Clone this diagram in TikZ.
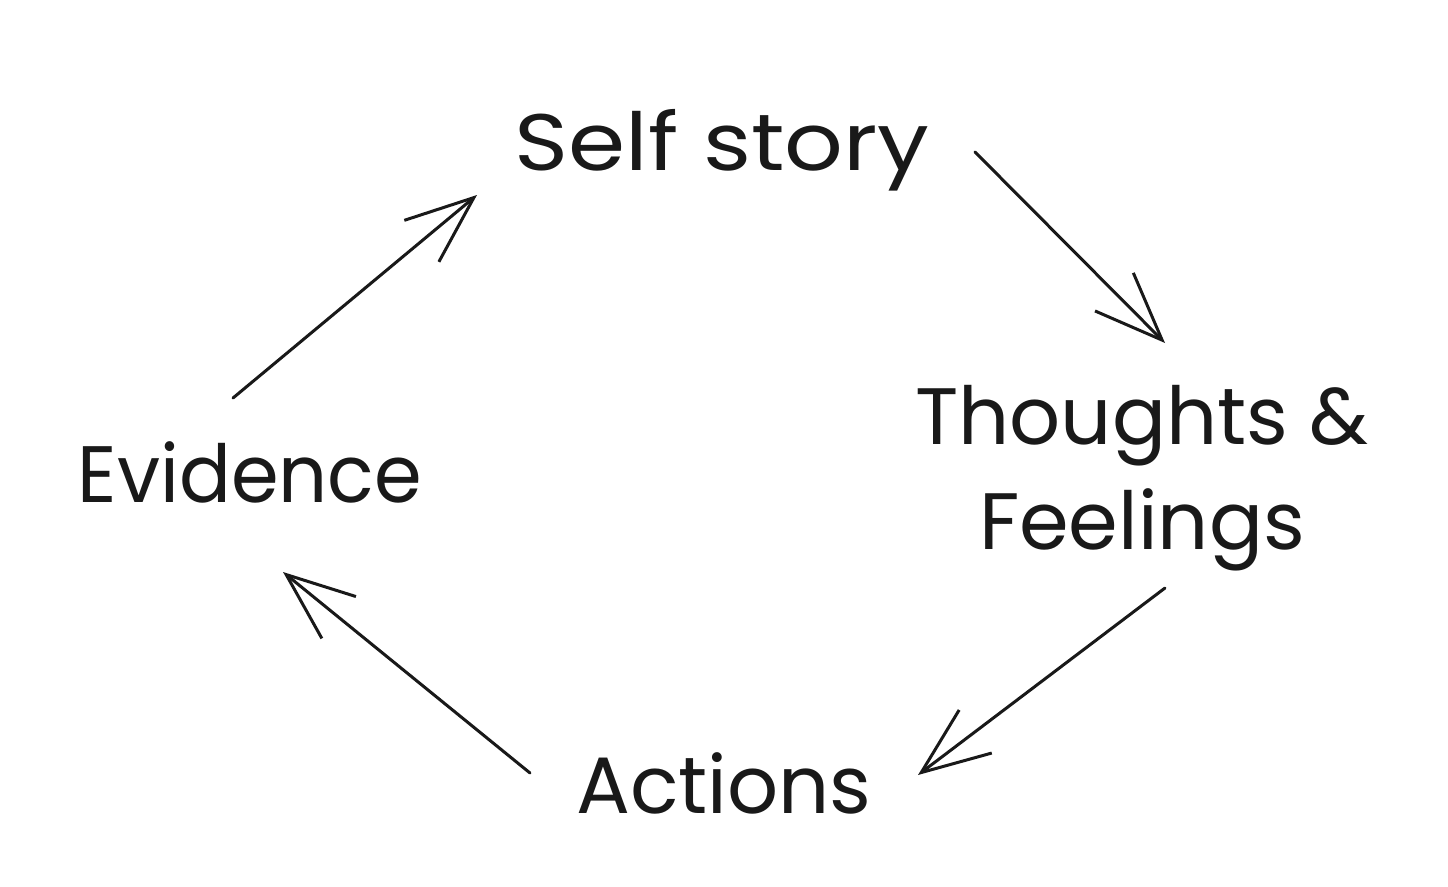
\documentclass[tikz,border=0pt]{standalone}
\usepackage{fontspec}
\setmainfont{Poppins}
\usetikzlibrary{arrows.meta}
\begin{document}
\begin{tikzpicture}[x=1pt,y=-1pt,
  lbl/.style={font=\fontsize{80}{90}\selectfont, inner sep=0pt, text=black!90, align=center},
  arr/.style={draw=black!90, line width=3pt, line cap=round, line join=round,
    -{Straight Barb[length=68pt,width=54pt,line width=3pt]}}]
\useasboundingbox (0,0) rectangle (1448,886);
\node[lbl] (ss) at (722,150) {\scalebox{1.15}[1]{Self story}};
\node[lbl, font=\fontsize{80}{105}\selectfont] (tf) at (1142,478) {Thoughts \&\\Feelings};
\node[lbl] (ev) at (250,472) {\scalebox{0.96}[1]{Evidence}};
\node[lbl] (ac) at (724,783) {Actions};
\coordinate (a1s) at (233,398); \coordinate (a1e) at (477,195);
\coordinate (a2s) at (975,152); \coordinate (a2e) at (1165,343);
\coordinate (a3s) at (1165,588); \coordinate (a3e) at (918,775);
\coordinate (a4s) at (530,773); \coordinate (a4e) at (283,572);
\draw[arr] (a1s) -- (a1e);
\draw[arr] (a2s) -- (a2e);
\draw[arr] (a3s) -- (a3e);
\draw[arr] (a4s) -- (a4e);
\end{tikzpicture}
\end{document}
